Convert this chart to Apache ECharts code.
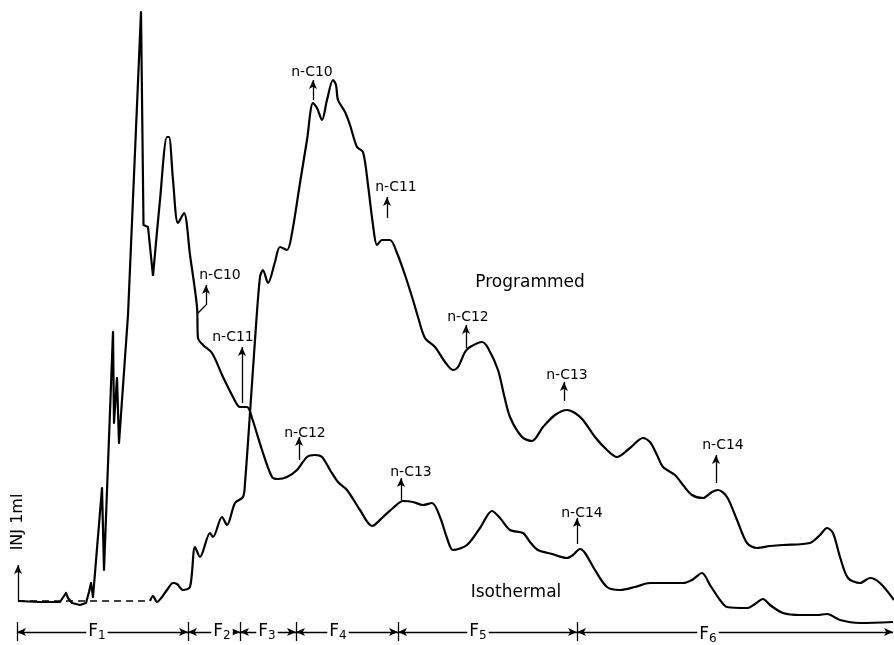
<!DOCTYPE html>
<html>
<head>
<meta charset="utf-8">
<script src="https://cdn.jsdelivr.net/npm/echarts@6/dist/echarts.min.js"></script>
<style>
html,body{margin:0;padding:0;background:#fff;}
#chart{width:894px;height:645px;}
</style>
</head>
<body>
<div id="chart"></div>
<script>
// Retention scale (chart-paper units) and detector response
const isoTime = [18,40,60,64,66,68,72,80,86,89,91,93,102,104,113,114,117,119,128,141,143.5,148,153,160,167,169,173,178,184,190,197,198,203,212,223,233,240,247,252,262,272,278,287,297,307,315,322,330,338,347,360,372,383,393,403,413,423,432,440,447,453,467,480,492,500,510,523,530,538,552,567,573,580,585,595,607,620,635,650,683,692,702,710,720,727,747,755,763,770,783,800,817,827,840,860,893];
const isoResp = [0,-1,-1,5,8,3,-2,-4,-2,9,18,4,113,31,269,178,223,158,286,589,376,374,325,401,464,464,421,378,388,346,294,263,256,248,224,204,194,194,183,151,124,122,124,131,144,146,144,131,119,111,91,75,84,93,100,99,96,98,84,63,51,56,73,90,83,71,68,59,51,47,43,46,52,48,31,14,11,14,18,18,21,28,16,1,-6,-7,-3,2,-4,-12,-14,-14,-13,-19,-22,-21];

const progTime = [150,153,157,162,167,173,177,183,190,195,200,210,213,222,227,235,243,245,250,255,260,263,268,275,280,287,292,300,307,313,317,322,327,333,336,338,345,350,357,363,368,373,377,382,390,397,405,413,418,425,435,445,453,458,465,470,482,488,498,504,510,522,532,543,555,567,575,583,595,607,617,630,643,650,657,663,675,683,692,703,712,718,727,737,747,757,770,783,810,820,827,833,840,848,860,870,880,894];
const progResp = [0,5,-1,4,11,18,17,11,14,54,44,68,64,84,76,98,104,118,188,261,324,331,318,339,354,351,368,418,461,498,493,481,501,521,516,501,489,476,454,449,416,376,356,361,361,348,326,301,284,263,254,239,231,234,249,254,259,253,231,206,184,164,160,174,186,191,188,181,164,151,144,153,163,159,146,134,126,116,106,103,109,111,104,81,58,53,55,56,58,66,73,68,44,23,18,23,18,1];
const progBaseTime = [18,150];
const progBaseResp = [0,0];

// Peak markers: [label, time, arrow foot, arrow tip, label time, label level]
const isoPeaks = [
  ['n-C10',206,296,316,220,326],
  ['n-C11',242,198,254,233,264],
  ['n-C12',299,141,164,305,168],
  ['n-C13',401,101,123,411,129],
  ['n-C14',577,57,83,582,88]
];
const progPeaks = [
  ['n-C10',313,501,521,312,529],
  ['n-C11',387,383,404,396,414],
  ['n-C12',466,253,276,468,284],
  ['n-C13',564,200,219,567,226],
  ['n-C14',716,118,146,723,156]
];
const leaderC10 = [[198,288],[206,296]];

// Fractions F1..F6 boundaries
const fracNames = ['1','2','3','4','5','6'];
const fracBounds = [17,188,240,296,398,577,893];
const fracLabelPos = [97,222,267,338,478,708];
const fracLevel = -31;

const curveLabels = [['Programmed',530,318],['Isothermal',516,8]];
const injText = 'INJ 1ml';
const injTime = 18;

const ink = '#000';
const chart = echarts.init(document.getElementById('chart'));

const zip = (a,b) => a.map((v,i)=>[v,b[i]]);
const isoAll = zip(isoTime,isoResp);
const splitT = 153;
const isoSharp = isoAll.filter(p=>p[0]<=splitT);
const isoSmooth = isoAll.filter(p=>p[0]>=splitT);

const mlData = [];
function seg(p0,p1,s0,s1){
  mlData.push([{coord:p0, symbol:s0||'none'},{coord:p1, symbol:s1||'none'}]);
}
isoPeaks.concat(progPeaks).forEach(p=>seg([p[1],p[2]],[p[1],p[3]],'none','arrow'));
seg(leaderC10[0], leaderC10[1]);
seg([injTime,0],[injTime,36],'none','arrow');
for(let i=0;i<fracBounds.length-1;i++){
  seg([fracBounds[i],fracLevel],[fracBounds[i+1],fracLevel],'arrow','arrow');
}
for(let i=0;i<fracBounds.length-1;i++){
  seg([fracBounds[i],fracLevel+10],[fracBounds[i],fracLevel-9]);
}

const baseLabel = {color:ink,textBorderWidth:0,fontFamily:'DejaVu Sans'};
const textData = [];
isoPeaks.concat(progPeaks).forEach(p=>textData.push({value:[p[4],p[5]], name:p[0], label:Object.assign({fontSize:14},baseLabel)}));
curveLabels.forEach(c=>textData.push({value:[c[1],c[2]], name:c[0], label:Object.assign({fontSize:17},baseLabel)}));
textData.push({value:[injTime,79], name:injText, label:Object.assign({fontSize:16, rotate:90},baseLabel)});
fracNames.forEach((n,i)=>textData.push({
  value:[fracLabelPos[i], fracLevel + (i===5?-3:0)],
  name:n,
  label:{formatter:'{f|F}{s|'+n+'}', backgroundColor:'#fff', padding:[0,2,0,2], textBorderWidth:0,
    rich:{f:{fontSize:17,color:ink,fontFamily:'DejaVu Sans',verticalAlign:'middle'},
          s:{fontSize:12,color:ink,fontFamily:'DejaVu Sans',padding:[8,0,0,0]}}}
}));

chart.setOption({
  animation:false,
  backgroundColor:'#fff',
  grid:{left:0,right:0,top:0,bottom:0},
  xAxis:{type:'value',min:0,max:894,show:false},
  yAxis:{type:'value',min:-44,max:601,show:false},
  series:[
    {type:'line',name:'Isothermal',data:isoSharp,smooth:false,showSymbol:false,
     lineStyle:{color:ink,width:2.2,join:'round'},z:3},
    {type:'line',name:'Isothermal ',data:isoSmooth,smooth:0.3,showSymbol:false,
     lineStyle:{color:ink,width:2.2},z:3},
    {type:'line',name:'Programmed',data:zip(progTime,progResp),smooth:0.3,showSymbol:false,
     lineStyle:{color:ink,width:2.2},z:3},
    {type:'line',name:'Programmed baseline',data:zip(progBaseTime,progBaseResp),showSymbol:false,
     lineStyle:{color:ink,width:1.6,type:[7,5]},z:2,
     markLine:{silent:true,animation:false,symbolSize:[6,9],
       lineStyle:{color:ink,width:1.3,type:'solid',opacity:1},label:{show:false},
       emphasis:{disabled:true},data:mlData}},
    {type:'scatter',data:textData,symbolSize:1,itemStyle:{color:'rgba(0,0,0,0)',opacity:1},z:5,silent:true,
     label:{show:true,position:'inside',formatter:'{b}',color:ink,textBorderWidth:0,fontFamily:'DejaVu Sans'}}
  ]
});
</script>
</body>
</html>
